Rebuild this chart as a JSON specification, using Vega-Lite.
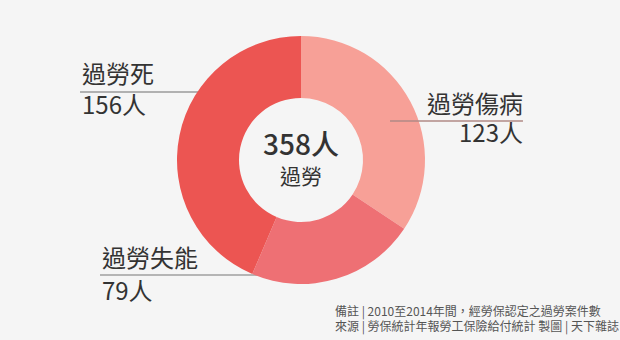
{
  "$schema": "https://vega.github.io/schema/vega-lite/v6.json",
  "width": 620,
  "height": 340,
  "autosize": {"type": "none"},
  "padding": 0,
  "background": "#f5f5f5",
  "config": {"view": {"stroke": null}, "text": {"font": "Noto Sans CJK TC", "color": "#333333"}},
  "data": {"values": [
    {"category": "過勞傷病", "count": 123, "order": 1},
    {"category": "過勞失能", "count": 79, "order": 2},
    {"category": "過勞死", "count": 156, "order": 3}
  ]},
  "layer": [
    {
      "transform": [{"filter": "datum.category === '過勞死'"}],
      "mark": {"type": "rule", "color": "#9a9a9a", "strokeWidth": 1.5},
      "encoding": {
        "x": {"datum": -1.782, "type": "quantitative", "scale": {"domain": [-2.4274, 2.5726], "nice": false, "zero": false}, "axis": null},
        "x2": {"datum": -0.573},
        "y": {"datum": 0.548, "type": "quantitative", "scale": {"domain": [-1.4516, 1.2903], "nice": false, "zero": false}, "axis": null}
      }
    },
    {
      "transform": [{"filter": "datum.category === '過勞失能'"}],
      "mark": {"type": "rule", "color": "#b5b5b5", "strokeWidth": 2},
      "encoding": {
        "x": {"datum": -1.621, "type": "quantitative", "scale": {"domain": [-2.4274, 2.5726], "nice": false, "zero": false}, "axis": null},
        "x2": {"datum": -0.169},
        "y": {"datum": -0.927, "type": "quantitative", "scale": {"domain": [-1.4516, 1.2903], "nice": false, "zero": false}, "axis": null}
      }
    },
    {
      "mark": {"type": "arc", "innerRadius": 62, "outerRadius": 124},
      "encoding": {
        "theta": {"field": "count", "type": "quantitative", "stack": true},
        "order": {"field": "order", "type": "quantitative"},
        "color": {"field": "category", "type": "nominal", "legend": null,
          "scale": {"domain": ["過勞傷病", "過勞失能", "過勞死"], "range": ["#f7a097", "#ee7074", "#ec5552"]}},
        "x": {"datum": 0, "type": "quantitative", "scale": {"domain": [-2.4274, 2.5726], "nice": false, "zero": false}, "axis": null},
        "y": {"datum": 0, "type": "quantitative", "scale": {"domain": [-1.4516, 1.2903], "nice": false, "zero": false}, "axis": null}
      }
    },
    {
      "transform": [{"filter": "datum.category === '過勞傷病'"}],
      "mark": {"type": "rule", "color": "#b08a86", "strokeWidth": 1.5},
      "encoding": {
        "x": {"datum": 0.718, "type": "quantitative", "scale": {"domain": [-2.4274, 2.5726], "nice": false, "zero": false}, "axis": null},
        "x2": {"datum": 1.79},
        "y": {"datum": 0.315, "type": "quantitative", "scale": {"domain": [-1.4516, 1.2903], "nice": false, "zero": false}, "axis": null}
      }
    },
    {
      "transform": [
        {"filter": "datum.category === '過勞死'"},
        {"calculate": "[datum.category, datum.count + '人']", "as": "label"}
      ],
      "mark": {"type": "text", "fontSize": 24, "align": "left", "baseline": "alphabetic", "lineHeight": 31},
      "encoding": {
        "text": {"field": "label"},
        "x": {"datum": -1.766, "type": "quantitative", "scale": {"domain": [-2.4274, 2.5726], "nice": false, "zero": false}, "axis": null},
        "y": {"datum": 0.621, "type": "quantitative", "scale": {"domain": [-1.4516, 1.2903], "nice": false, "zero": false}, "axis": null}
      }
    },
    {
      "transform": [
        {"filter": "datum.category === '過勞傷病'"},
        {"calculate": "[datum.category, datum.count + '人']", "as": "label"}
      ],
      "mark": {"type": "text", "fontSize": 24, "align": "right", "baseline": "alphabetic", "lineHeight": 28.5},
      "encoding": {
        "text": {"field": "label"},
        "x": {"datum": 1.79, "type": "quantitative", "scale": {"domain": [-2.4274, 2.5726], "nice": false, "zero": false}, "axis": null},
        "y": {"datum": 0.379, "type": "quantitative", "scale": {"domain": [-1.4516, 1.2903], "nice": false, "zero": false}, "axis": null}
      }
    },
    {
      "transform": [
        {"filter": "datum.category === '過勞失能'"},
        {"calculate": "[datum.category, datum.count + '人']", "as": "label"}
      ],
      "mark": {"type": "text", "fontSize": 24, "align": "left", "baseline": "alphabetic", "lineHeight": 33.5},
      "encoding": {
        "text": {"field": "label"},
        "x": {"datum": -1.605, "type": "quantitative", "scale": {"domain": [-2.4274, 2.5726], "nice": false, "zero": false}, "axis": null},
        "y": {"datum": -0.859, "type": "quantitative", "scale": {"domain": [-1.4516, 1.2903], "nice": false, "zero": false}, "axis": null}
      }
    },
    {
      "transform": [
        {"aggregate": [{"op": "sum", "field": "count", "as": "total"}]},
        {"calculate": "datum.total + '人'", "as": "t"}
      ],
      "mark": {"type": "text", "fontSize": 28, "fontWeight": 500, "align": "center", "baseline": "alphabetic"},
      "encoding": {
        "text": {"field": "t"},
        "x": {"datum": 0, "type": "quantitative", "scale": {"domain": [-2.4274, 2.5726], "nice": false, "zero": false}, "axis": null},
        "y": {"datum": 0.04, "type": "quantitative", "scale": {"domain": [-1.4516, 1.2903], "nice": false, "zero": false}, "axis": null}
      }
    },
    {
      "transform": [{"aggregate": [{"op": "sum", "field": "count", "as": "total"}]}],
      "mark": {"type": "text", "text": "過勞", "fontSize": 21, "fontWeight": 400, "align": "center", "baseline": "alphabetic"},
      "encoding": {
        "x": {"datum": 0, "type": "quantitative", "scale": {"domain": [-2.4274, 2.5726], "nice": false, "zero": false}, "axis": null},
        "y": {"datum": -0.194, "type": "quantitative", "scale": {"domain": [-1.4516, 1.2903], "nice": false, "zero": false}, "axis": null}
      }
    },
    {
      "transform": [{"aggregate": [{"op": "sum", "field": "count", "as": "total"}]}],
      "mark": {"type": "text", "text": ["備註 | 2010至2014年間，經勞保認定之過勞案件數", "來源 | 勞保統計年報勞工保險給付統計 製圖 | 天下雜誌"], "fontSize": 12, "lineHeight": 15, "align": "left", "baseline": "alphabetic", "color": "#555555"},
      "encoding": {
        "x": {"datum": 0.274, "type": "quantitative", "scale": {"domain": [-2.4274, 2.5726], "nice": false, "zero": false}, "axis": null},
        "y": {"datum": -1.258, "type": "quantitative", "scale": {"domain": [-1.4516, 1.2903], "nice": false, "zero": false}, "axis": null}
      }
    }
  ]
}
